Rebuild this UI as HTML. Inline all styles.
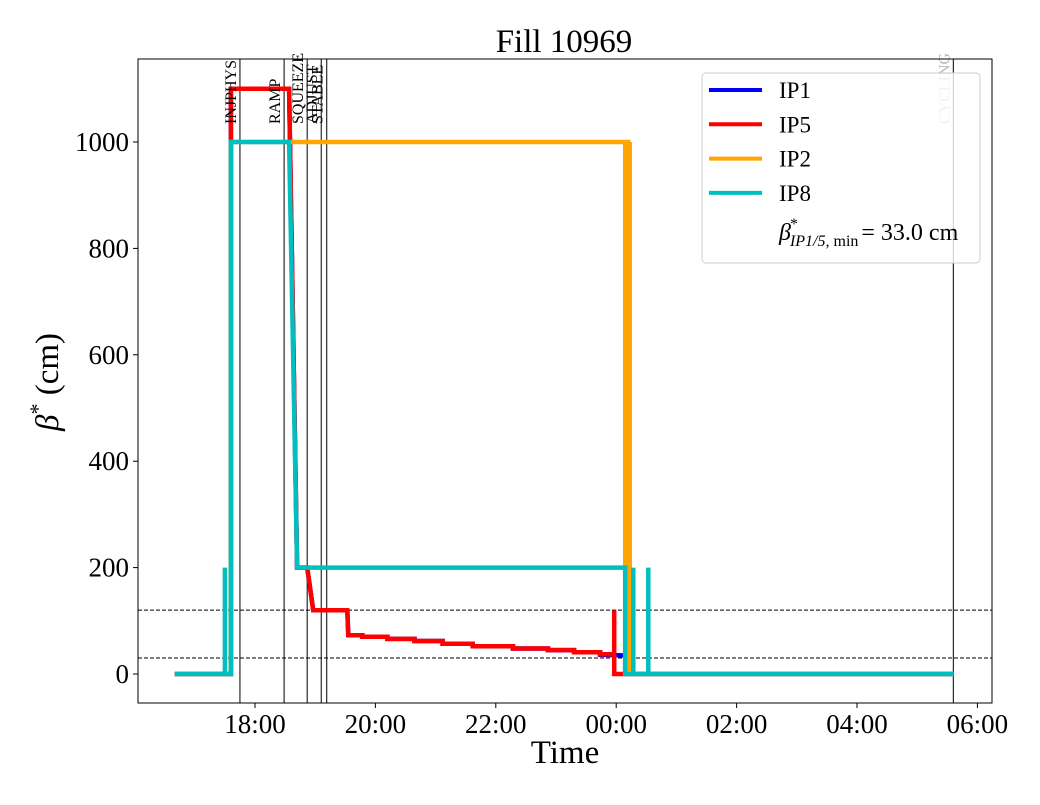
<!DOCTYPE html>
<html><head><meta charset="utf-8"><style>
body{margin:0;background:#fff;}
svg text{font-family:"Liberation Serif","DejaVu Serif",serif;}
</style></head><body>
<svg id="chart" width="1040" height="800" xmlns="http://www.w3.org/2000/svg">
<rect width="1040" height="800" fill="#fff"/>
<text x="564" y="52" font-size="33" text-anchor="middle">Fill 10969</text>
<g id="plot"></g>
<text x="565" y="763" font-size="33" text-anchor="middle">Time</text>
<text transform="translate(58,382) rotate(-90)" font-size="33" text-anchor="middle"><tspan font-style="italic">β</tspan><tspan dy="-13" font-size="22">*</tspan><tspan dy="13"> (cm)</tspan></text>
</svg>
<script>
// time in minutes since 00:00 of the first day
const xTicks=[1080,1200,1320,1440,1560,1680,1800];
const xTickLabels=["18:00","20:00","22:00","00:00","02:00","04:00","06:00"];
const yTicks=[0,200,400,600,800,1000];
const eventTimes=[1065,1109,1132,1146,1151.5,1776];
const eventLabels=["INJPHYS","RAMP","SQUEEZE","ADJUST","STABLE","CYCLING"];
const hLines=[120,30];
const ip1T=[1000,1056,1056,1114,1122,1132,1138,1172,1173,1187,1187,1212,1212,1239,1239,1267,1267,1297,1297,1337,1337,1372,1372,1398,1398,1424,1424,1449,1449,1776];
const ip1V=[0,0,1100,1100,200,200,120,120,73,73,70,70,66,66,62,62,57,57,52,52,48,48,45,45,41,41,36,35,0,0];
const ip5T=[1000,1056,1056,1114,1122,1132,1138,1172,1173,1187,1187,1212,1212,1239,1239,1267,1267,1297,1297,1337,1337,1372,1372,1398,1398,1424,1424,1438,1438,1438,1449,1776];
const ip5V=[0,0,1100,1100,200,200,120,120,73,73,70,70,66,66,62,62,57,57,52,52,48,48,45,45,41,41,37,37,120,0,0,0];
const ip2T=[1000,1056,1056,1449,1449,1450.5,1450.5,1452,1452,1453.5,1453.5,1453.5,1776];
const ip2V=[0,0,1000,1000,0,0,1000,1000,0,0,1000,0,0];
const ip8T=[1000,1050,1050,1050,1056,1056,1114,1122,1449,1449,1457,1457,1457,1472,1472,1472,1776];
const ip8V=[0,0,200,0,0,1000,1000,200,200,0,0,200,0,0,200,0,0];

const L=138,R=992,T=59,B=703;
function xs(t){return 255+(t-1080)*(120.4/120);}
function ys(v){return 674-v*0.532;}
const NS="http://www.w3.org/2000/svg";
const g=document.getElementById('plot');
function el(tag,attrs,parent){const e=document.createElementNS(NS,tag);for(const k in attrs)e.setAttribute(k,attrs[k]);(parent||g).appendChild(e);return e;}

eventTimes.forEach((t,i)=>{
  const ln=el('line',{x1:xs(t),x2:xs(t),y1:T,y2:B,stroke:'#000','stroke-width':1});
  
  
});
hLines.forEach(v=>{
  const ln=el('line',{x1:L,x2:R,y1:ys(v),y2:ys(v),stroke:'#000','stroke-width':1,'stroke-dasharray':'4,2'});
  
  
});
function series(ts,vs,color,name){
  const pts=ts.map((t,i)=>xs(t).toFixed(1)+','+ys(vs[i]).toFixed(1)).join(' ');
  const p=el('polyline',{points:pts,fill:'none',stroke:color,'stroke-width':4.5,'stroke-linejoin':'miter'});
  
  
}
series(ip1T,ip1V,'#0000ff','series-ip1');
series(ip5T,ip5V,'#ff0000','series-ip5');
series(ip2T,ip2V,'#ffa500','series-ip2');
series(ip8T,ip8V,'#00bfbf','series-ip8');

eventTimes.forEach((t,i)=>{
  const x=xs(t)-4;
  const tx=el('text',{transform:`translate(${x},${T+65}) rotate(-90)`,'font-size':16,fill:i==5?'#bbb':'#000'});
  tx.textContent=eventLabels[i];
  
  
});

const fr=el('rect',{x:L,y:T,width:R-L,height:B-T,fill:'none',stroke:'#000','stroke-width':1});



xTicks.forEach((t,i)=>{
  el('line',{x1:xs(t),x2:xs(t),y1:B,y2:B+5,stroke:'#000'});
  const tx=el('text',{x:xs(t),y:B+30,'font-size':27,'text-anchor':'middle'});
  tx.textContent=xTickLabels[i];
  
  
});
yTicks.forEach(v=>{
  el('line',{x1:L-5,x2:L,y1:ys(v),y2:ys(v),stroke:'#000'});
  const tx=el('text',{x:L-9,y:ys(v)+9,'font-size':27,'text-anchor':'end'});
  tx.textContent=String(v);
  
  
});

const lg=el('g',{});


el('rect',{x:702,y:73,width:278,height:190,rx:4,fill:'rgba(255,255,255,0.8)',stroke:'#ccc'},lg);
const legNames=["IP1","IP5","IP2","IP8"],legCols=['#0000ff','#ff0000','#ffa500','#00bfbf'];
legNames.forEach((n,i)=>{
  const y=90+i*34.3;
  el('line',{x1:709,x2:762,y1:y,y2:y,stroke:legCols[i],'stroke-width':4},lg);
  const tx=el('text',{x:779,y:y+8,'font-size':23},lg);
  tx.textContent=n;
  
  
});
const bt=el('text',{x:779,y:240,'font-size':24},lg);


bt.innerHTML='<tspan font-style="italic">β</tspan><tspan dx="-1" dy="-11" font-size="16">*</tspan><tspan dx="-8" dy="17" font-size="16" font-style="italic">IP1/5,</tspan><tspan font-size="16"> min</tspan><tspan dy="-6" dx="3">= 33.0 cm</tspan>';
</script>
</body></html>
